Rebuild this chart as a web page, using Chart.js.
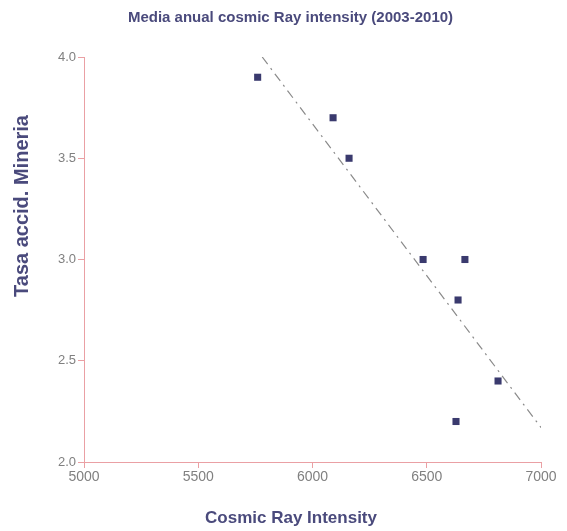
<!DOCTYPE html>
<html>
<head>
<meta charset="utf-8">
<script src="https://cdn.jsdelivr.net/npm/chart.js@4/dist/chart.umd.min.js"></script>
<style>
html,body{margin:0;padding:0;background:#fff;}
#wrap{width:567px;height:531px;position:relative;}
</style>
</head>
<body>
<div id="wrap"><canvas id="c" width="567" height="531"></canvas></div>
<script>
// Data
const cosmicRay = [5760, 6090, 6160, 6484, 6667, 6637, 6812, 6628];
const accidentRate = [3.9, 3.7, 3.5, 3.0, 3.0, 2.8, 2.4, 2.2];
const trendX = [5780, 7000];
const trendY = [4.0, 2.17];
const xTicks = [5000, 5500, 6000, 6500, 7000];
const yTicks = [2.0, 2.5, 3.0, 3.5, 4.0];

const titleText = 'Media anual cosmic Ray intensity (2003-2010)';
const xTitle = 'Cosmic Ray Intensity';
const yTitle = 'Tasa accid. Mineria';

const navy = '#3a3a6e';
const axisPink = '#eaa0a4';
const fontFam = '"Liberation Sans", Arial, sans-serif';

const axisTitlePlugin = {
  id: 'axisTitlePlugin',
  afterDraw(chart) {
    const ctx = chart.ctx;
    ctx.save();
    ctx.fillStyle = '#4a4a7c';
    ctx.font = 'bold 17px ' + fontFam;
    ctx.textAlign = 'center';
    ctx.textBaseline = 'middle';
    ctx.fillText(xTitle, 291, 518);
    ctx.translate(22, 206);
    ctx.rotate(-Math.PI / 2);
    ctx.font = 'bold 20px ' + fontFam;
    ctx.fillText(yTitle, 0, 0);
    ctx.restore();
  }
};

new Chart(document.getElementById('c'), {
  type: 'scatter',
  data: {
    datasets: [
      {
        label: 'Data',
        data: cosmicRay.map((x, i) => ({x: x, y: accidentRate[i]})),
        pointStyle: 'rect',
        pointRadius: 5,
        pointHoverRadius: 5,
        backgroundColor: navy,
        borderColor: navy,
        borderWidth: 0,
        order: 1
      },
      {
        label: 'Trend',
        type: 'line',
        data: trendX.map((x, i) => ({x: x, y: trendY[i]})),
        borderColor: '#8a8a8a',
        borderWidth: 1.2,
        borderDash: [9, 5, 2, 5],
        pointRadius: 0,
        fill: false,
        order: 2
      }
    ]
  },
  options: {
    responsive: false,
    animation: false,
    layout: { padding: { left: 40, right: 26, top: 0, bottom: 0 } },
    plugins: {
      legend: { display: false },
      tooltip: { enabled: false },
      title: {
        display: true,
        text: titleText,
        color: '#4a4a7c',
        font: { family: fontFam, size: 15, weight: 'bold' },
        padding: { top: 9, bottom: 30 }
      }
    },
    scales: {
      x: {
        type: 'linear',
        min: 5000,
        max: 7000,
        afterBuildTicks: (s) => { s.ticks = xTicks.map(v => ({value: v})); },
        afterFit: (s) => { s.height = 69; },
        border: { color: axisPink, width: 1 },
        grid: { drawOnChartArea: false, drawTicks: true, tickLength: 6, color: axisPink },
        ticks: {
          color: '#808080',
          font: { family: fontFam, size: 14 },
          padding: 1,
          maxRotation: 0,
          callback: (v) => String(v)
        },
        title: { display: false }
      },
      y: {
        type: 'linear',
        min: 2,
        max: 4,
        afterBuildTicks: (s) => { s.ticks = yTicks.map(v => ({value: v})); },
        afterFit: (s) => { s.width = 44; },
        border: { color: axisPink, width: 1 },
        grid: { drawOnChartArea: false, drawTicks: true, tickLength: 6, color: axisPink },
        ticks: {
          color: '#808080',
          font: { family: fontFam, size: 13 },
          padding: 2,
          callback: (v) => Number(v).toFixed(1)
        },
        title: { display: false }
      }
    }
  },
  plugins: [axisTitlePlugin]
});
</script>
</body>
</html>
